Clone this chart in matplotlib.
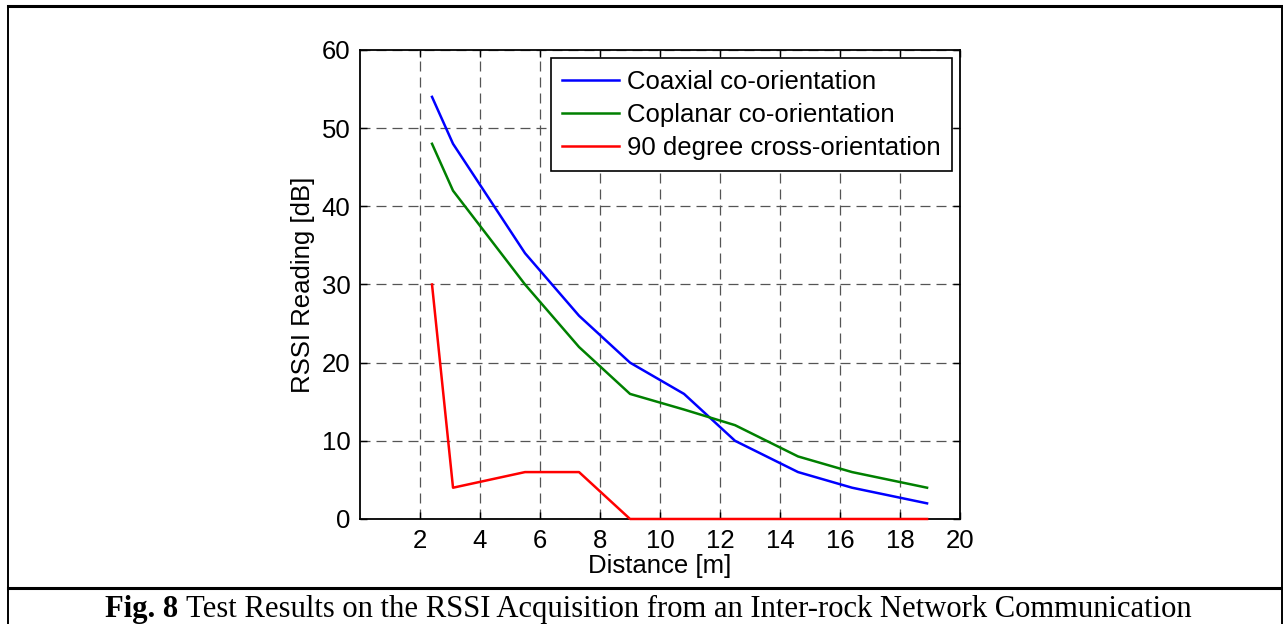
import matplotlib
matplotlib.use("Agg")
import matplotlib.pyplot as plt
from matplotlib.lines import Line2D

distance = [2.4, 3.1, 5.5, 7.3, 9.0, 10.8, 12.5, 14.6, 16.4, 18.9]
coaxial = [54, 48, 34, 26, 20, 16, 10, 6, 4, 2]
coplanar = [48, 42, 30, 22, 16, 14, 12, 8, 6, 4]
cross90 = [30, 4, 6, 6, 0, 0, 0, 0, 0, 0]
series_labels = ["Coaxial co-orientation", "Coplanar co-orientation", "90 degree cross-orientation"]
series_colors = ["#0000ff", "#008000", "#ff0000"]
xticks = [2, 4, 6, 8, 10, 12, 14, 16, 18, 20]
yticks = [0, 10, 20, 30, 40, 50, 60]

plt.rcParams['font.family'] = ['Liberation Sans', 'DejaVu Sans']
FS = 18.5

fig = plt.figure(figsize=(12.83, 6.24), dpi=100)
ax = fig.add_axes([0.2806, 0.1683, 0.4677, 0.7516])

for ys, lab, col in zip([coaxial, coplanar, cross90], series_labels, series_colors):
    ax.plot(distance, ys, color=col, lw=1.8, label=lab, clip_on=False, zorder=3)

ax.set_xlim(0, 20)
ax.set_ylim(0, 60)
ax.set_xticks(xticks)
ax.set_yticks(yticks)
ax.tick_params(direction='in', top=True, right=True, labelsize=FS, length=5, width=1, pad=7)
ax.grid(True, linestyle=(0, (8, 4.8)), color='#555555', linewidth=0.9)
for s in ax.spines.values():
    s.set_linewidth(1.3)
    s.set_zorder(2.5)
ax.set_xlabel("Distance [m]", fontsize=FS, labelpad=1)
ax.set_ylabel("RSSI Reading [dB]", fontsize=FS, labelpad=5)

leg = ax.legend(loc='upper right', fontsize=FS, frameon=True, fancybox=False,
                edgecolor='black', framealpha=1, handlelength=2.2, handletextpad=0.3,
                borderpad=0.45, labelspacing=0.35, borderaxespad=0.32)
leg.get_frame().set_linewidth(1.2)
leg.set_zorder(5)

# figure frame lines
fig.add_artist(Line2D([0.0062, 1.0], [0.990, 0.990], color='black', lw=2.2, transform=fig.transFigure))
fig.add_artist(Line2D([0.0062, 0.0062], [0.0, 0.990], color='black', lw=1.4, transform=fig.transFigure))
fig.add_artist(Line2D([0.999, 0.999], [0.0, 0.990], color='black', lw=1.4, transform=fig.transFigure))
fig.add_artist(Line2D([0.0062, 1.0], [0.0577, 0.0577], color='black', lw=2.2, transform=fig.transFigure))

CFS = 22.1
t1 = fig.text(105 / 1283, 0.024, "Fig. 8", fontsize=CFS, fontweight='bold',
              family='Liberation Serif', va='center', ha='left')
fig.canvas.draw()
bb = t1.get_window_extent()
x2 = (bb.x1 + 0.25 * CFS * 100 / 72) / fig.bbox.width
fig.text(x2, 0.024, "Test Results on the RSSI Acquisition from an Inter-rock Network Communication",
         fontsize=CFS, family='Liberation Serif', va='center', ha='left')

fig.savefig("out.png", dpi=100)
